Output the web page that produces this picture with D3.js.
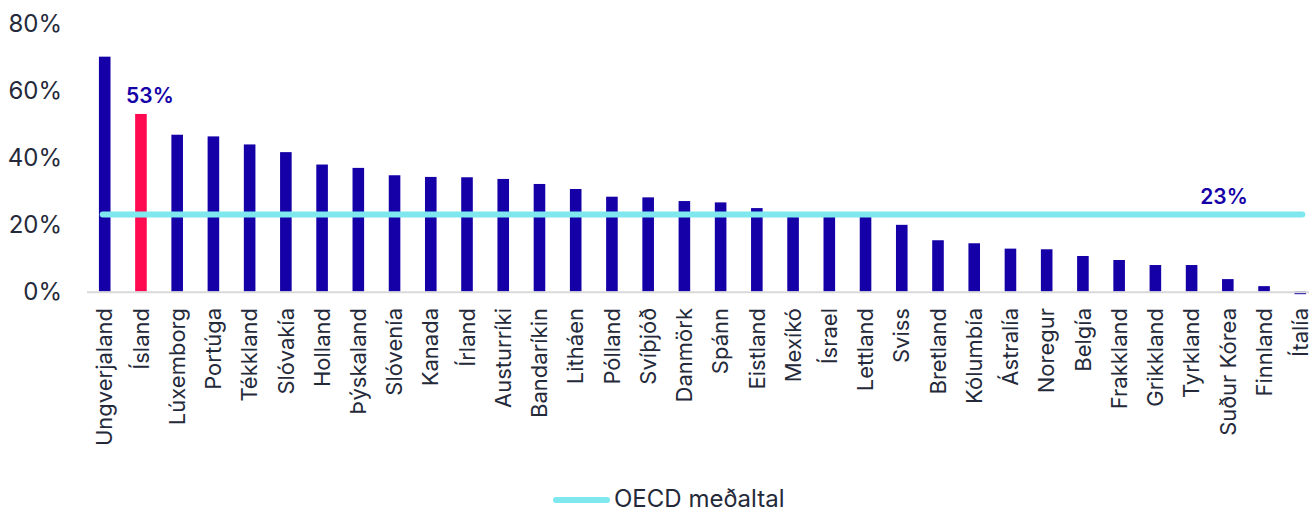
<!DOCTYPE html>
<html>
<head>
<meta charset="utf-8" />
<title>OECD</title>
<script src="https://cdn.jsdelivr.net/npm/d3@7/dist/d3.min.js"></script>
<style>
  body { margin: 0; background: #fff; }
  svg text { font-family: Inter, "Liberation Sans", sans-serif; fill: #252a3a; }
</style>
</head>
<body>
<div id="chart"></div>
<script>
  // countries, sorted as in the picture
  var countries = ["Ungverjaland", "Ísland", "Lúxemborg", "Portúga", "Tékkland", "Slóvakía", "Holland",
    "Þýskaland", "Slóvenía", "Kanada", "Írland", "Austurríki", "Bandaríkin", "Litháen", "Pólland",
    "Svíþjóð", "Danmörk", "Spánn", "Eistland", "Mexíkó", "Ísrael", "Lettland", "Sviss", "Bretland",
    "Kólumbía", "Ástralía", "Noregur", "Belgía", "Frakkland", "Grikkland", "Tyrkland", "Suður Kórea",
    "Finnland", "Ítalía"];
  var values = [70.1, 53, 46.8, 46.3, 43.9, 41.6, 37.9, 36.9, 34.7, 34.2, 34.1, 33.6, 32.1, 30.6, 28.3,
    28.1, 27.0, 26.6, 24.9, 22.9, 22.7, 22.5, 19.9, 15.3, 14.4, 12.8, 12.6, 10.6, 9.4, 7.9, 7.9, 3.7,
    1.6, -0.8];
  var oecdAvg = 23;
  var yTicks = [0, 20, 40, 60, 80];
  var highlight = "Ísland";

  var W = 1309, H = 511;
  var svg = d3.select("#chart").append("svg").attr("width", W).attr("height", H);

  var x = d3.scaleBand().domain(countries).range([86.6, 1318.4]).paddingInner(0.68).paddingOuter(0.34);
  var y = d3.scaleLinear().domain([0, 80]).range([291.5, 23.5]);

  // y labels
  svg.selectAll(".ylab").data(yTicks).enter().append("text")
    .attr("class", "ylab")
    .attr("x", 62).attr("y", function(d) { return y(d); })
    .attr("dy", "0.36em")
    .attr("text-anchor", "end")
    .style("font-size", "24px")
    .text(function(d) { return d + "%"; });

  // bars
  svg.selectAll(".bar").data(countries).enter().append("rect")
    .attr("class", "bar")
    .attr("x", function(d) { return x(d); })
    .attr("width", x.bandwidth())
    .attr("y", function(d, i) { return y(Math.max(0, values[i])); })
    .attr("height", function(d, i) { return Math.abs(y(values[i]) - y(0)); })
    .attr("fill", function(d) { return d == highlight ? "#ff0a50" : "#1500a8"; });

  // zero line
  svg.append("line")
    .attr("x1", 87).attr("x2", W).attr("y1", y(0) + 0.8).attr("y2", y(0) + 0.8)
    .attr("stroke", "#d9d9d9").attr("stroke-width", 2);

  // oecd average line
  svg.append("line")
    .attr("x1", x(countries[0]) + x.bandwidth() / 2 - 2)
    .attr("x2", x(countries[countries.length - 1]) + x.bandwidth() / 2 + 2)
    .attr("y1", y(oecdAvg)).attr("y2", y(oecdAvg))
    .attr("stroke", "#7fe8ee").attr("stroke-width", 6).attr("stroke-linecap", "round");

  // value labels
  var hi = countries.indexOf(highlight);
  svg.append("text")
    .attr("x", x(highlight) + x.bandwidth() / 2 + 9)
    .attr("y", y(values[hi]) - 11)
    .attr("text-anchor", "middle")
    .style("font-size", "21px").style("font-weight", 600).style("fill", "#1500a8")
    .text(values[hi] + "%");
  svg.append("text")
    .attr("x", 1224)
    .attr("y", y(oecdAvg) - 10)
    .attr("text-anchor", "middle")
    .style("font-size", "21px").style("font-weight", 600).style("fill", "#1500a8")
    .text(oecdAvg + "%");

  // category labels
  svg.selectAll(".xlab").data(countries).enter().append("text")
    .attr("class", "xlab")
    .attr("transform", function(d) { return "translate(" + (x(d) + x.bandwidth() / 2) + "," + 308 + ") rotate(-90)"; })
    .attr("dy", "0.35em")
    .attr("text-anchor", "end")
    .style("font-size", "22px")
    .text(function(d) { return d; });

  // legend
  svg.append("line")
    .attr("x1", 556).attr("x2", 607).attr("y1", 500).attr("y2", 500)
    .attr("stroke", "#7fe8ee").attr("stroke-width", 6).attr("stroke-linecap", "round");
  svg.append("text")
    .attr("x", 614).attr("y", 498).attr("dy", "0.36em")
    .style("font-size", "24px")
    .text("OECD meðaltal");
</script>
</body>
</html>
